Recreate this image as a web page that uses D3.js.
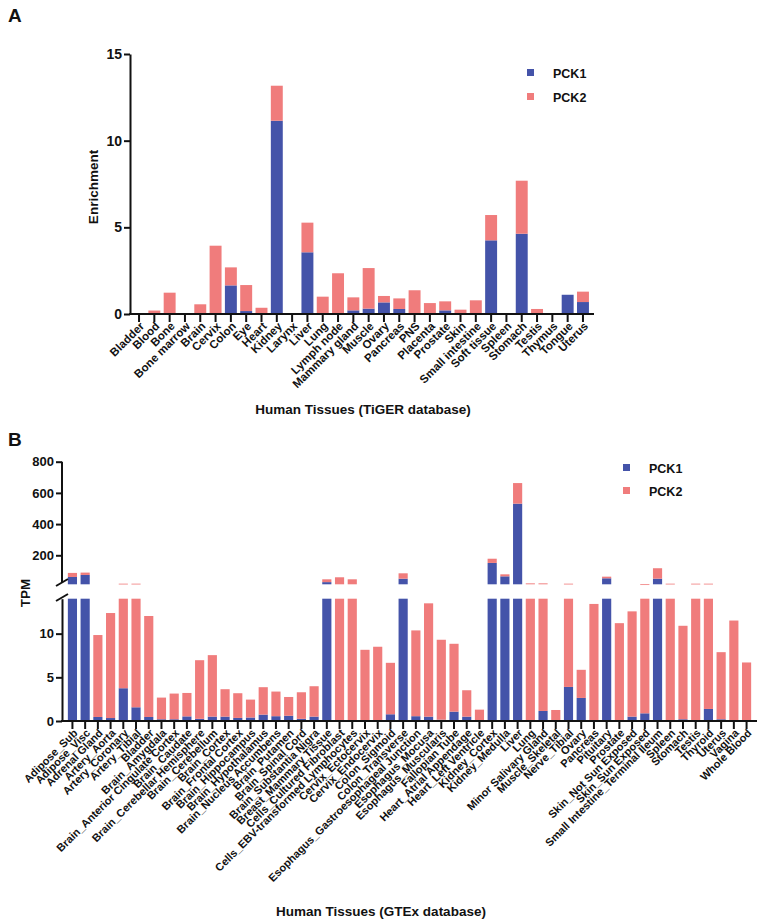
<html>
<script src='https://d3js.org/d3.v7.min.js'></script>
<style>
body {margin:0; background:white;}
text {font-family: Arial, "Liberation Sans", sans-serif; font-weight: bold; fill: #111;}
</style>
<body>
<svg width=762 height=922></svg>
<script>
// Panel A: TiGER
var tissuesA = ["Bladder","Blood","Bone","Bone marrow","Brain","Cervix","Colon","Eye","Heart","Kidney","Larynx","Liver","Lung","Lymph node","Mammary gland","Muscle","Ovary","Pancreas","PNS","Placenta","Prostate","Skin","Small intestine","Soft tissue","Spleen","Stomach","Testis","Thymus","Tongue","Uterus"]
var pck1A = [0,0,0,0,0,0,1.65,0.17,0,11.15,0,3.56,0,0,0.21,0.31,0.67,0.29,0,0,0.21,0,0,4.25,0,4.63,0,0,1.11,0.69]
var pck2A = [0,0.2,1.23,0,0.56,3.94,1.04,1.5,0.36,2.02,0,1.71,1.0,2.35,0.75,2.34,0.37,0.61,1.37,0.63,0.52,0.25,0.79,1.46,0,3.06,0.29,0,0,0.6]
var ticksA = [0,5,10,15]

// Panel B: GTEx
var tissuesB = ["Adipose_Sub","Adipose_Visc","Adrenal Gland","Artery_Aorta","Artery_Coronary","Artery_Tibial","Bladder","Brain_Amygdala","Brain_Anterior Cingulate Cortex","Brain_Caudate","Brain_Cerebellar Hemisphere","Brain_Cerebellum","Brain_Cortex","Brain_Frontal Cortex","Brain_Hippocampus","Brain_Hypothalamus","Brain_Nucleus Accumbens","Brain_Putamen","Brain_Spinal Cord","Brain_Substantia Nigra","Breast_Mammary Tissue","Cells_Cultured Fibroblast","Cells_EBV-transformed Lymphocytes","Cervix_Ectocervix","Cervix_Endocervix","Colon_Sigmoid","Colon_Transverse","Esophagus_Gastroesophageal Junction","Esophagus_Mocusa","Esophagus_Muscularis","Fallopian Tube","Heart_Atrial Appendage","Heart_Left Ventricle","Kidney_Cortex","Kidney_Medulla","Liver","Lung","Minor Salivary Gland","Muscle_Skeletal","Nerve_Tibial","Ovary","Pancreas","Pituitary","Prostate","Skin_Not Sun Exposed","Skin_Sun Exposed","Small Intestine_Terminal Ileum","Spleen","Stomach","Testis","Thyroid","Uterus","Vagina","Whole Blood"]
var pck1B = [61,74,0.46,0.34,3.75,1.57,0.46,0.2,0.2,0.53,0.25,0.5,0.5,0.35,0.4,0.73,0.55,0.6,0.25,0.5,28,0,0.05,0.05,0,0.77,50,0.55,0.5,0.15,1.07,0.5,0,151,65,531,0.05,1.15,0,3.9,2.64,0.05,52.5,0.1,0.5,0.88,50,0,0.2,0.05,1.38,0.2,0,0]
var pck2B = [26,15,9.38,12.02,14.25,16.43,11.56,2.48,2.94,2.68,6.71,7.04,3.14,2.83,2.05,3.14,2.82,2.15,3.04,3.48,18,59,46,8.1,8.5,5.89,34.5,9.82,12.97,9.15,7.77,3.02,1.3,27,13,132,20,18.85,1.26,14.1,3.22,13.35,10.5,11.1,12.05,13.62,67,18,10.7,18,16.62,7.68,11.5,6.7]
var ticksBlow = [0,5,10]
var ticksBhigh = [200,400,600,800]

var series = ["PCK1","PCK2"]
var colors = ["#4453A9","#F07C7C"]

var svg = d3.select("svg")

function styleAxis(g) {
  g.select(".domain").attr("stroke","#111").attr("stroke-width",2)
  g.selectAll(".tick line").attr("stroke","#111").attr("stroke-width",2)
  g.selectAll(".tick text").attr("fill","#111")
}

// ---------- Panel A ----------
svg.append("text").attr("x",8).attr("y",22).style("font-size","19px").text("A")

var xA = d3.scaleBand().domain(tissuesA).range([130,592]).paddingInner(0.22).paddingOuter(0.2)
var yA = d3.scaleLinear().domain([0,15]).range([314,54])

var stackA = tissuesA.map(function(t,i){ return {t:t, a:pck1A[i], b:pck2A[i]} })
var gA = svg.append("g")
gA.selectAll("rect.p1").data(stackA).enter().append("rect")
  .attr("x", d => xA(d.t)).attr("width", xA.bandwidth())
  .attr("y", d => yA(d.a)).attr("height", d => yA(0)-yA(d.a))
  .attr("fill", colors[0])
gA.selectAll("rect.p2").data(stackA).enter().append("rect")
  .attr("x", d => xA(d.t)).attr("width", xA.bandwidth())
  .attr("y", d => yA(d.a+d.b)).attr("height", d => yA(d.a)-yA(d.a+d.b))
  .attr("fill", colors[1])

svg.append("g").attr("transform","translate(130,0)")
  .call(d3.axisLeft(yA).tickValues(ticksA).tickSize(6).tickSizeOuter(0).tickPadding(2))
  .call(styleAxis)
  .selectAll("text").style("font-size","14px")

var axA = svg.append("g").attr("transform","translate(0,314)")
  .call(d3.axisBottom(xA).tickSize(8).tickSizeOuter(0))
  .call(styleAxis)
axA.select(".domain").attr("d","M129,0H594")
axA.selectAll(".tick text").style("font-size","11.5px")
  .attr("text-anchor","end").attr("dy","0.35em")
  .attr("transform","translate(3,10) rotate(-45)").attr("y",0).attr("x",0)

svg.append("text").attr("transform","translate(98,187) rotate(-90)")
  .attr("text-anchor","middle").style("font-size","13.5px").text("Enrichment")
svg.append("text").attr("x",363).attr("y",414).attr("text-anchor","middle")
  .style("font-size","13.5px").text("Human Tissues (TiGER database)")

var legA = svg.append("g")
series.forEach(function(s,i){
  legA.append("rect").attr("x",527).attr("y",69+i*24).attr("width",7).attr("height",7).attr("fill",colors[i])
  legA.append("text").attr("x",553).attr("y",78+i*24).style("font-size","12.5px").text(s)
})

// ---------- Panel B ----------
svg.append("text").attr("x",8).attr("y",446).style("font-size","19px").text("B")

var xB = d3.scaleBand().domain(tissuesB).range([62,757]).paddingInner(0.28).paddingOuter(0.46)
var yLow = d3.scaleLinear().domain([0,14]).range([721,598.7])
var yHigh = d3.scaleLinear().domain([14,800]).range([584.3,461.7])

var stackB = tissuesB.map(function(t,i){ return {t:t, a:pck1B[i], b:pck2B[i]} })
var gB = svg.append("g")
// draw each stacked piece on both axis segments, clipped at the break
function piece(lo, hi, color) {
  stackB.forEach(function(d){
    var v0 = lo(d), v1 = hi(d)
    if (v1 <= v0) return
    var l0 = Math.min(v0,14), l1 = Math.min(v1,14)
    if (l1 > l0) gB.append("rect").attr("x", xB(d.t)).attr("width", xB.bandwidth())
      .attr("y", yLow(l1)).attr("height", yLow(l0)-yLow(l1)).attr("fill", color)
    var h0 = Math.max(v0,14), h1 = Math.max(v1,14)
    if (h1 > h0) gB.append("rect").attr("x", xB(d.t)).attr("width", xB.bandwidth())
      .attr("y", yHigh(h1)).attr("height", Math.max(yHigh(h0)-yHigh(h1),0.8)).attr("fill", color)
  })
}
piece(d => 0, d => d.a, colors[0])
piece(d => d.a, d => d.a+d.b, colors[1])

svg.append("g").attr("transform","translate(62,0)")
  .call(d3.axisLeft(yLow).tickValues(ticksBlow).tickSize(6).tickSizeOuter(0).tickPadding(2))
  .call(styleAxis)
  .selectAll("text").style("font-size","13px")
var axHi = svg.append("g").attr("transform","translate(62,0)")
  .call(d3.axisLeft(yHigh).tickValues(ticksBhigh).tickSize(6).tickSizeOuter(0).tickPadding(2))
  .call(styleAxis)
axHi.selectAll("text").style("font-size","13px")
axHi.select(".domain").attr("d","M0,461.7V582")
// break marks
svg.append("line").attr("x1",56).attr("y1",586).attr("x2",68).attr("y2",579).attr("stroke","#111").attr("stroke-width",2)
svg.append("line").attr("x1",56).attr("y1",601).attr("x2",68).attr("y2",594).attr("stroke","#111").attr("stroke-width",2)

var axB = svg.append("g").attr("transform","translate(0,721)")
  .call(d3.axisBottom(xB).tickSize(8).tickSizeOuter(0))
  .call(styleAxis)
axB.select(".domain").attr("d","M61,0H757")
axB.selectAll(".tick text").style("font-size","11px")
  .attr("text-anchor","end").attr("dy","0.35em")
  .attr("transform","translate(3,10) rotate(-45)").attr("y",0).attr("x",0)

svg.append("text").attr("transform","translate(30,593) rotate(-90)")
  .attr("text-anchor","middle").style("font-size","13.5px").text("TPM")
svg.append("text").attr("x",381).attr("y",916).attr("text-anchor","middle")
  .style("font-size","13.5px").text("Human Tissues (GTEx database)")

var legB = svg.append("g")
series.forEach(function(s,i){
  legB.append("rect").attr("x",623).attr("y",464+i*23).attr("width",7).attr("height",7).attr("fill",colors[i])
  legB.append("text").attr("x",649).attr("y",473+i*23).style("font-size","12.5px").text(s)
})
</script>
</body>
</html>
